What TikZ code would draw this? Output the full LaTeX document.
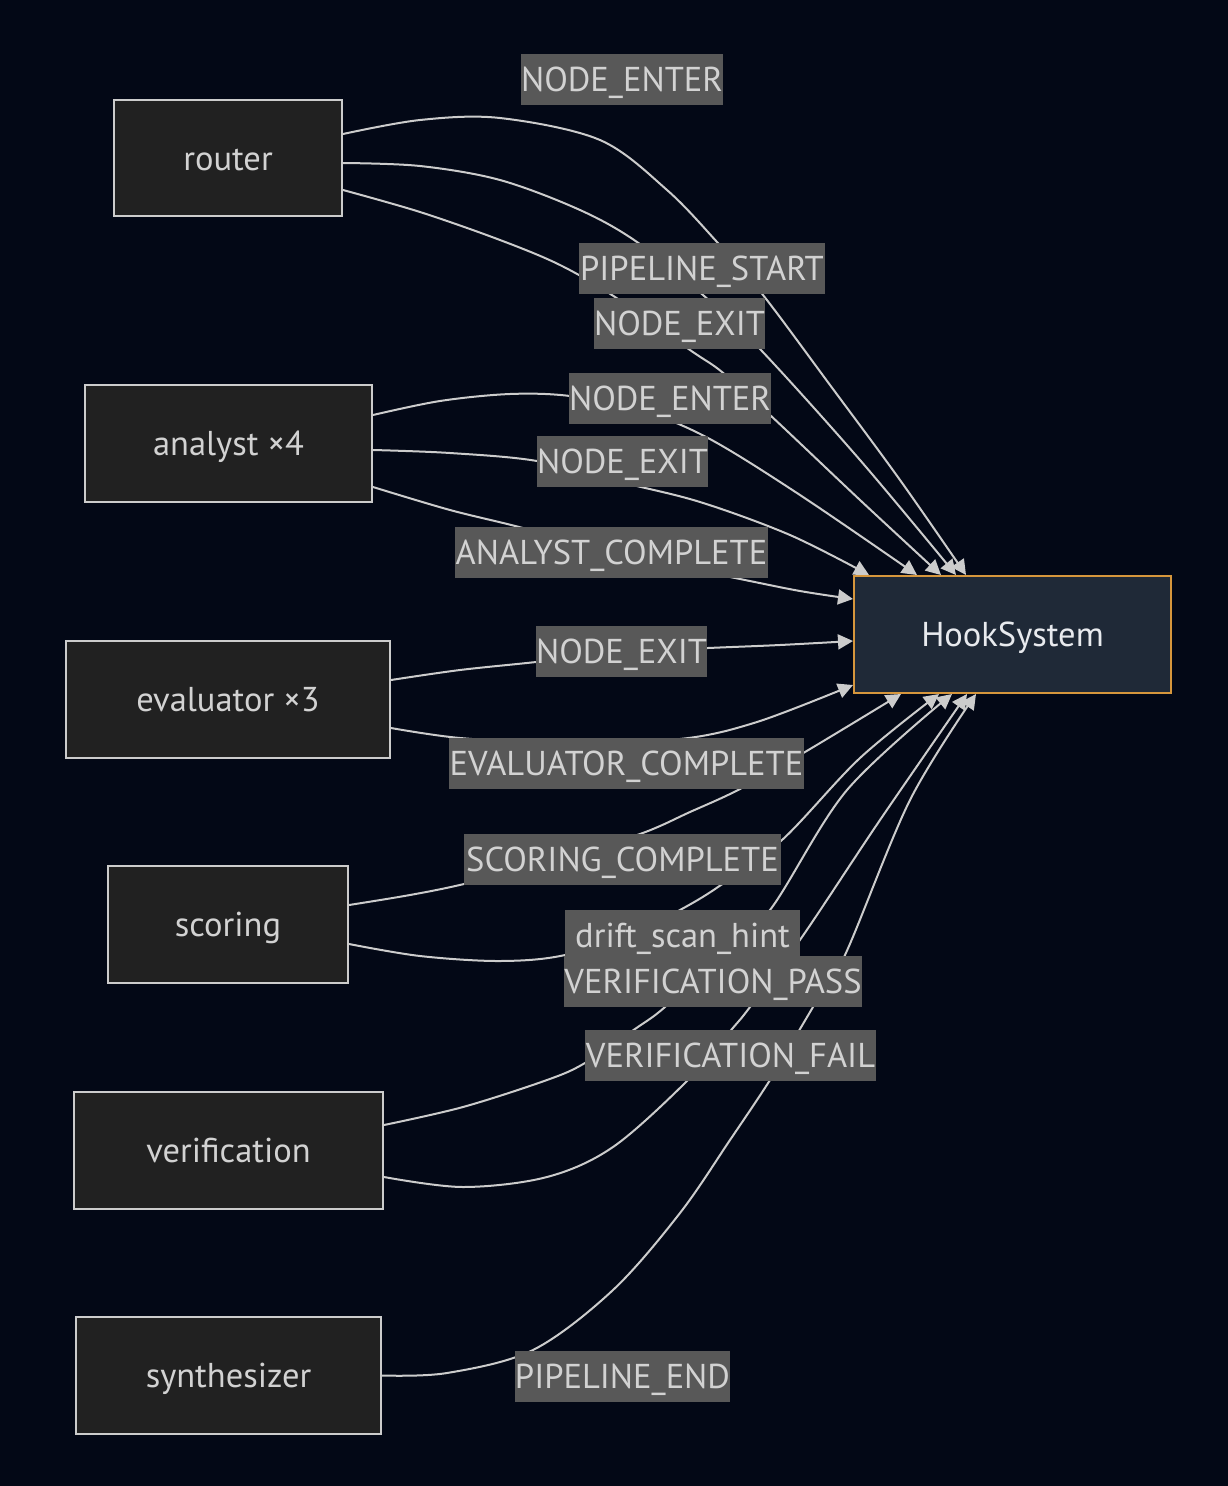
\documentclass[tikz,border=0pt]{standalone}
\usepackage{fontspec}
\setmainfont{PT Sans}
\usetikzlibrary{calc,arrows.meta}
\definecolor{bgc}{RGB}{3,8,22}
\definecolor{nodefill}{RGB}{33,33,33}
\definecolor{nodeline}{RGB}{204,204,204}
\definecolor{txt}{RGB}{210,210,210}
\definecolor{hookfill}{RGB}{31,41,55}
\definecolor{hookline}{RGB}{214,150,60}
\definecolor{hooktxt}{RGB}{232,234,238}
\definecolor{lblfill}{RGB}{88,88,88}
\definecolor{edgec}{RGB}{204,204,204}
\tikzset{
  box/.style={draw=nodeline, fill=nodefill, line width=2pt, text=txt, inner sep=0pt,
    text height=24pt, text depth=0pt, font=\fontsize{34.5}{38}\selectfont},
  hookbox/.style={draw=hookline, fill=hookfill, line width=2pt, text=hooktxt, inner sep=0pt,
    text height=24pt, text depth=0pt, font=\fontsize{34.5}{38}\selectfont},
  lbl/.style={fill=lblfill, text=txt, inner sep=0pt, minimum height=51pt,
    text height=24pt, text depth=0pt, font=\fontsize{34.5}{38}\selectfont},
  edge/.style={draw=edgec, line width=2pt, -{Triangle[length=15pt,width=15pt]}}
}
\begin{document}
\begin{tikzpicture}[x=1pt,y=-1pt]
\fill[bgc] (0,0) rectangle (1228,1486);
\useasboundingbox (0,0) rectangle (1228,1486);

% main nodes
\node[box, minimum width=228pt, minimum height=116pt] (router) at (228,158) {router};
\node[box, minimum width=287pt, minimum height=117pt] (analyst) at (228.5,443.5) {analyst ×4};
\node[box, minimum width=324pt, minimum height=117pt] (evaluator) at (228,699.5) {evaluator ×3};
\node[box, minimum width=240pt, minimum height=117pt] (scoring) at (228,924.5) {scoring};
\node[box, minimum width=309pt, minimum height=117pt] (verification) at (228.5,1150.5) {verification};
\node[box, minimum width=305pt, minimum height=117pt] (synth) at (228.5,1375.5) {synthesizer};
\node[hookbox, minimum width=317pt, minimum height=117pt] (hook) at (1012.5,634.5) {HookSystem};

% start points
\coordinate (r1) at ($(router.east)+(0,-24)$);
\coordinate (r2) at ($(router.east)+(0,5)$);
\coordinate (r3) at ($(router.east)+(0,32)$);
\coordinate (a1) at ($(analyst.east)+(0,-28.5)$);
\coordinate (a2) at ($(analyst.east)+(0,6.5)$);
\coordinate (a3) at ($(analyst.east)+(0,43.5)$);
\coordinate (e1) at ($(evaluator.east)+(0,-19.5)$);
\coordinate (e2) at ($(evaluator.east)+(0,28.5)$);
\coordinate (s1) at ($(scoring.east)+(0,-19.5)$);
\coordinate (s2) at ($(scoring.east)+(0,19.5)$);
\coordinate (v1) at ($(verification.east)+(0,-25.5)$);
\coordinate (v2) at ($(verification.east)+(0,26.5)$);
\coordinate (y1) at (synth.east);

% end points on HookSystem
\coordinate (t1) at ($(hook.north west)+(16,0)$);
\coordinate (t2) at ($(hook.north west)+(64,0)$);
\coordinate (t3) at ($(hook.north west)+(88,0)$);
\coordinate (t4) at ($(hook.north west)+(103,0)$);
\coordinate (t5) at ($(hook.north west)+(113,0)$);
\coordinate (l1) at ($(hook.north west)+(0,24)$);
\coordinate (l2) at ($(hook.north west)+(0,66)$);
\coordinate (l3) at ($(hook.north west)+(0,110)$);
\coordinate (b1) at ($(hook.south west)+(48,0)$);
\coordinate (b2) at ($(hook.south west)+(86,0)$);
\coordinate (b3) at ($(hook.south west)+(99,0)$);
\coordinate (b4) at ($(hook.south west)+(114,0)$);
\coordinate (b5) at ($(hook.south west)+(123,0)$);

% edges
\draw[edge] plot[smooth, tension=0.55] coordinates {(r1) (420,120) (500,118) (600,140) (667,190) (717,242) (763,295) (830,385) (900,480) (t5)};
\draw[edge] plot[smooth, tension=0.55] coordinates {(r2) (420,166) (500,180) (580,210) (637,242) (703,295) (760,349) (860,460) (t4)};
\draw[edge] plot[smooth, tension=0.55] coordinates {(r3) (420,212) (500,240) (560,265) (615,297) (690,350) (722,372) (770,415) (860,500) (t3)};
\draw[edge] plot[smooth, tension=0.55] coordinates {(a1) (440,401) (510,394) (570,396) (640,410) (708,438) (800,495) (t2)};
\draw[edge] plot[smooth, tension=0.55] coordinates {(a2) (450,453) (537,461) (620,482) (700,502) (790,535) (t1)};
\draw[edge] plot[smooth, tension=0.55] coordinates {(a3) (450,510) (523,528) (620,555) (735,578) (800,591) (l1)};
\draw[edge] plot[smooth, tension=0.55] coordinates {(e1) (460,670) (536,662) (621,652) (708,648) (780,645) (l2)};
\draw[edge] plot[smooth, tension=0.55] coordinates {(e2) (460,738) (560,743) (680,739) (757,722) (l3)};
\draw[edge] plot[smooth, tension=0.55] coordinates {(s1) (410,895) (464,884) (550,862) (640,834) (690,812) (740,789) (805,752) (b1)};
\draw[edge] plot[smooth, tension=0.55] coordinates {(s2) (420,956) (500,961) (565,955) (640,930) (680,910) (718,887) (782,840) (860,758) (b2)};
\draw[edge] plot[smooth, tension=0.55] coordinates {(v1) (463,1107) (547,1080) (585,1063) (635,1029) (665,1007) (720,955) (770,910) (847,790) (b3)};
\draw[edge] plot[smooth, tension=0.55] coordinates {(v2) (463,1187) (547,1177) (613,1147) (687,1081) (732,1029) (750,1007) (802,937) (880,820) (b4)};
\draw[edge] plot[smooth, tension=0.55] coordinates {(y1) (447,1373) (533,1350) (613,1290) (680,1213) (730,1140) (770,1080) (800,1029) (813,1007) (845,955) (910,800) (b5)};

% edge labels
\node[lbl, minimum width=202pt] (lEnterA) at (622,79) {NODE\_ENTER};
\node[lbl, minimum width=246pt] (lStart) at (702,268.5) {PIPELINE\_START};
\node[lbl, minimum width=171pt] (lExitA) at (679.5,323.5) {NODE\_EXIT};
\node[lbl, minimum width=202pt] (lEnterB) at (670,398.5) {NODE\_ENTER};
\node[lbl, minimum width=171pt] (lExitB) at (622.5,461) {NODE\_EXIT};
\node[lbl, minimum width=313pt] (lAnalyst) at (611.5,552.5) {ANALYST\_COMPLETE};
\node[lbl, minimum width=171pt] (lExitC) at (621.5,651) {NODE\_EXIT};
\node[lbl, minimum width=355pt] (lEval) at (626.5,763) {EVALUATOR\_COMPLETE};
\node[lbl, minimum width=317pt] (lScoring) at (622.5,859.5) {SCORING\_COMPLETE};
\node[lbl, minimum width=235pt] (lDrift) at (682.5,935.5) {drift\_scan\_hint};
\node[lbl, minimum width=296pt] (lPass) at (713,981) {VERIFICATION\_PASS};
\node[lbl, minimum width=291pt] (lFail) at (730.5,1055) {VERIFICATION\_FAIL};
\node[lbl, minimum width=215pt] (lEnd) at (622.5,1376) {PIPELINE\_END};
\end{tikzpicture}
\end{document}
